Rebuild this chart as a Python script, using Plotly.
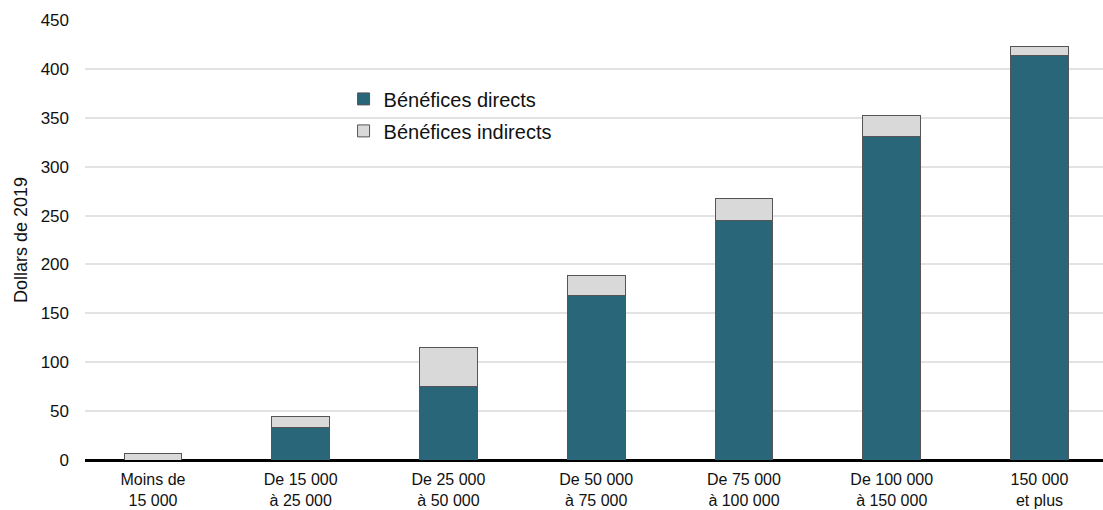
import plotly.graph_objects as go

categories = ["Moins de<br>15 000", "De 15 000<br>à 25 000", "De 25 000<br>à 50 000",
              "De 50 000<br>à 75 000", "De 75 000<br>à 100 000", "De 100 000<br>à 150 000",
              "150 000<br>et plus"]
direct = [0, 33, 75, 168, 245, 331, 414]
indirect = [7, 12, 40, 21, 22, 21, 9]

fig = go.Figure()
fig.add_trace(go.Bar(x=categories, y=direct, name="Bénéfices directs",
                     marker=dict(color="#29667A", line=dict(color="#555555", width=1)),
                     width=0.39, legendgroup="a"))
fig.add_trace(go.Bar(x=categories, y=indirect, name="Bénéfices indirects",
                     marker=dict(color="#D9D9D9", line=dict(color="#555555", width=1)),
                     width=0.39, legendgroup="b"))

fig.update_layout(
    barmode="stack",
    width=1103, height=510,
    margin=dict(l=85, r=0, t=20, b=50),
    plot_bgcolor="white", paper_bgcolor="white",
    font=dict(family="Liberation Sans, Arial", size=17, color="#111111"),
    legend=dict(x=0.254, y=0.865, xanchor="left", yanchor="top",
                traceorder="grouped", tracegroupgap=3,
                font=dict(size=20), itemwidth=30, bgcolor="rgba(0,0,0,0)"),
    xaxis=dict(range=[-0.46, 6.43], showgrid=False, ticks="", automargin=False,
               tickfont=dict(size=16), ticklabelstandoff=8),
    yaxis=dict(range=[0, 450], dtick=50, showgrid=True, gridcolor="#E3E3E3",
               gridwidth=1.5, zeroline=True, zerolinecolor="black", zerolinewidth=3,
               ticks="", ticklabelstandoff=15, automargin=False,
               tickfont=dict(size=17),
               title=dict(text="Dollars de 2019", font=dict(size=18), standoff=8)),
    bargap=0.6,
)

# drop the default page margin so the figure sits at the window's corner
fig.write_html("out.html", config={"displayModeBar": False},
               post_script="document.body.style.margin='0';")
